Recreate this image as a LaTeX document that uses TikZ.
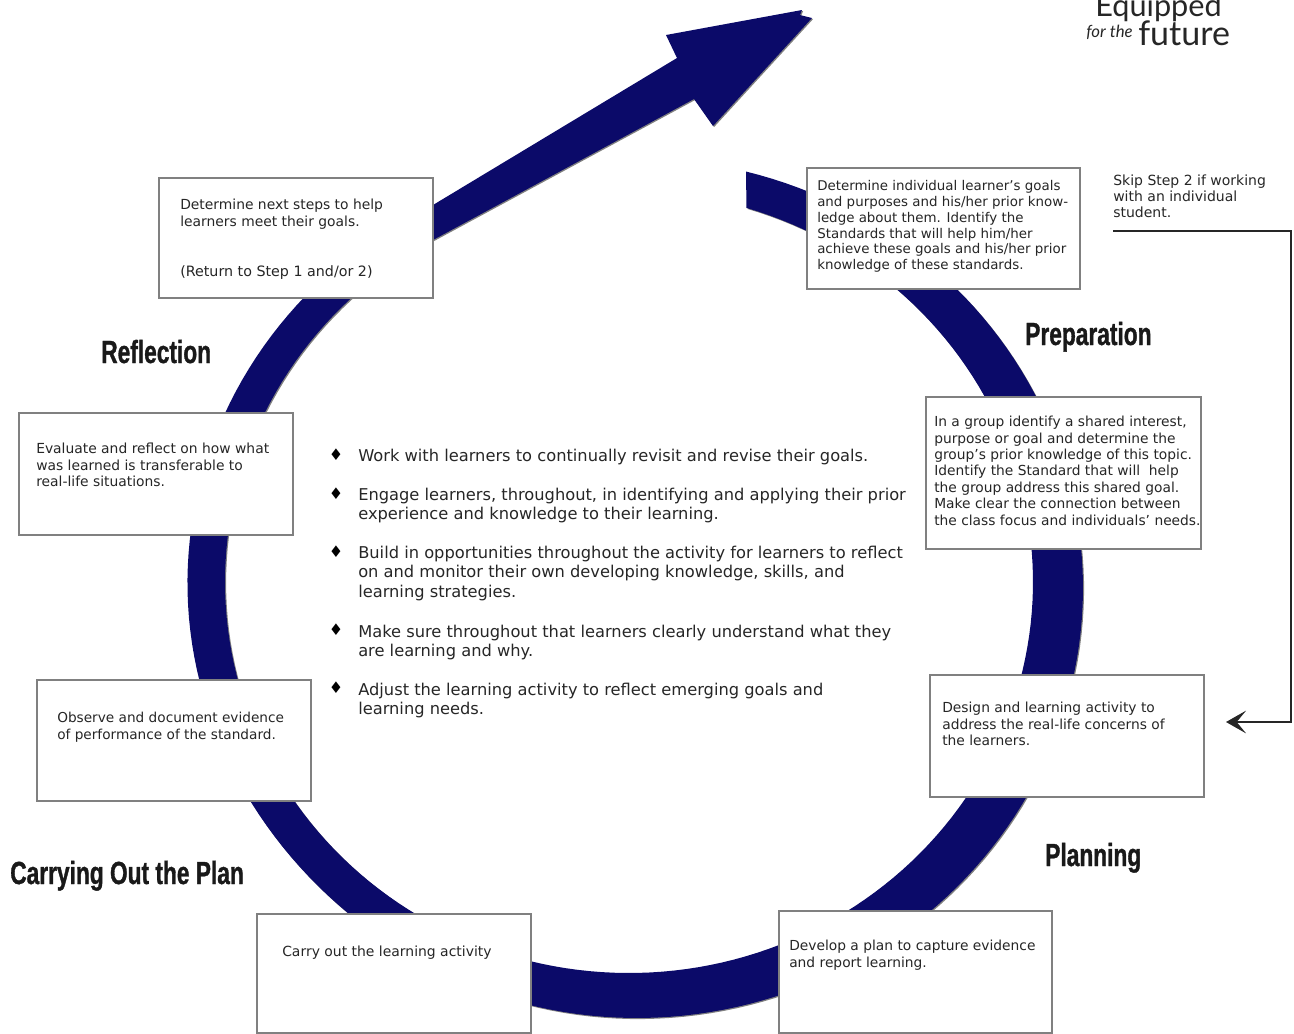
\documentclass[tikz,border=0pt]{standalone}
\usepackage{fontspec}
\setmainfont{DejaVu Sans}
\newfontfamily\headfont[FakeStretch=0.71,BoldFeatures={FakeBold=1}]{Liberation Sans}
\newfontfamily\logofont{Lato}
\usetikzlibrary{fit,arrows.meta}
\definecolor{navy}{HTML}{0B0A69}
\definecolor{ink}{HTML}{262626}
\tikzset{
  band/.style={fill=navy, draw=none, preaction={fill=black!50, transform canvas={shift={(0.8pt,-0.8pt)}}}},
  card/.style={draw=black!50, line width=0.8pt, fill=white, inner sep=0pt},
  tsize/.style 2 args={font=\fontsize{#1}{#2}\selectfont},
  cardtext/.style={anchor=north west, inner sep=0pt, align=left, text=ink, tsize={10.4}{12.7}},
  bullet/.style={anchor=center, inner sep=0pt, text=black, font=\fontsize{12}{12}\selectfont},
  heading/.style={anchor=base west, inner sep=0pt, text=black!90, font=\headfont\bfseries\fontsize{24}{26}\selectfont},
  logotext/.style={anchor=base west, inner sep=0pt, text=black!85},
  skipline/.style={line width=1.5pt, draw=black!85, -{Stealth[length=15pt,width=17pt,inset=7pt]}},
}
\begin{document}
\begin{tikzpicture}[x=0.75pt,y=-0.75pt]
\useasboundingbox (0,0) rectangle (1294,1033);
% ring
\path[band]
  plot[domain=75.6:-235,samples=180] ({634.5+448.5*cos(\x)+7*exp(-((\x+130)/40)*((\x+130)/40))},{588-430*sin(\x)})
  -- plot[domain=-235:73.1,samples=180] ({629+404*cos(\x)},{582-391*sin(\x)}) -- cycle;
% arrow
\path[band] (400,225) -- (433,205) -- (677,58) -- (666,35) -- (802,10) -- (800,15) -- (812,18)
  -- (713,126) -- (694,99) -- (433,240) -- (400,262) -- cycle;
% cards
\node[card, fit={(807,168)(1080,289)}] (prep1) {};
\node[card, fit={(926,397)(1201,549)}] (prep2) {};
\node[card, fit={(930,675)(1204,797)}] (plan1) {};
\node[card, fit={(779,911)(1052,1033)}] (plan2) {};
\node[card, fit={(257,914)(531,1033)}] (carry1) {};
\node[card, fit={(37,680)(311,801)}] (carry2) {};
\node[card, fit={(19,413)(293,535)}] (refl1) {};
\node[card, fit={(159,178)(433,298)}] (refl2) {};
% card texts
\node[cardtext, tsize={10.05}{11.9}] (tprep1) at (817,180) {Determine individual learner's goals\\and purposes and his/her prior know-\\ledge about them. Identify the\\Standards that will help him/her\\achieve these goals and his/her prior\\knowledge of these standards.};
\node[cardtext, tsize={10.35}{12.3}] (tprep2) at (934,416) {In a group identify a shared interest,\\purpose or goal and determine the\\group's prior knowledge of this topic.\\Identify the Standard that will\ \ help\\the group address this shared goal.\\Make clear the connection between\\the class focus and individuals' needs.};
\node[cardtext, tsize={10.37}{12.4}] (tplan1) at (942,702) {Design and learning activity to\\address the real-life concerns of\\the learners.};
\node[cardtext, tsize={10.35}{12.7}] (tplan2) at (789,940) {Develop a plan to capture evidence\\and report learning.};
\node[cardtext, tsize={10.45}{12.7}] (tcarry1) at (282,946) {Carry out the learning activity};
\node[cardtext, tsize={10.25}{12.7}] (tcarry2) at (57,712) {Observe and document evidence\\of performance of the standard.};
\node[cardtext, tsize={10.4}{12.4}] (trefl1) at (36,443) {Evaluate and reflect on how what\\was learned is transferable to\\real-life situations.};
\node[cardtext] (trefl2) at (180,199) {Determine next steps to help\\learners meet their goals.};
\node[cardtext, tsize={10.7}{12.7}] (trefl3) at (180,265) {(Return to Step 1 and/or 2)};
\node[cardtext, tsize={10.5}{12}] (tskip) at (1113,175) {Skip Step 2 if working\\with an individual\\student.};
% centre list
\node[bullet] (b1) at (336,455) {♦};
\node[bullet] (b2) at (336,494) {♦};
\node[bullet] (b3) at (336,552) {♦};
\node[bullet] (b4) at (336,630) {♦};
\node[bullet] (b5) at (336,688) {♦};
\node[cardtext, tsize={12.2}{14.5}] (l1) at (358,449) {Work with learners to continually revisit and revise their goals.};
\node[cardtext, tsize={12.2}{14.5}] (l2) at (358,488) {Engage learners, throughout, in identifying and applying their prior\\experience and knowledge to their learning.};
\node[cardtext, tsize={12.2}{14.5}] (l3) at (358,546) {Build in opportunities throughout the activity for learners to reflect\\on and monitor their own developing knowledge, skills, and\\learning strategies.};
\node[cardtext, tsize={12.2}{14.5}] (l4) at (358,625) {Make sure throughout that learners clearly understand what they\\are learning and why.};
\node[cardtext, tsize={12.2}{14.5}] (l5) at (358,683) {Adjust the learning activity to reflect emerging goals and\\learning needs.};
% headings
\node[heading] (hrefl) at (101,363) {Reflection};
\node[heading] (hprep) at (1025,345) {Preparation};
\node[heading] (hplan) at (1045,866) {Planning};
\node[heading] (hcarry) at (10,884) {Carrying Out the Plan};
% logo
\node[logotext, font=\logofont\fontsize{23}{24}\selectfont] (logo1) at (1095,16) {Equipped};
\node[logotext, font=\logofont\itshape\fontsize{12.6}{13}\selectfont] (logo2) at (1086,37) {for the};
\node[logotext, font=\logofont\fontsize{25.5}{27}\selectfont] (logo3) at (1138,45) {future};
% connector
\coordinate (skipstart) at (1113,231);
\coordinate (skipend) at (1226,722);
\draw[skipline] (skipstart) -- (1291,231) -- (1291,722) -- (skipend);
\end{tikzpicture}
\end{document}
